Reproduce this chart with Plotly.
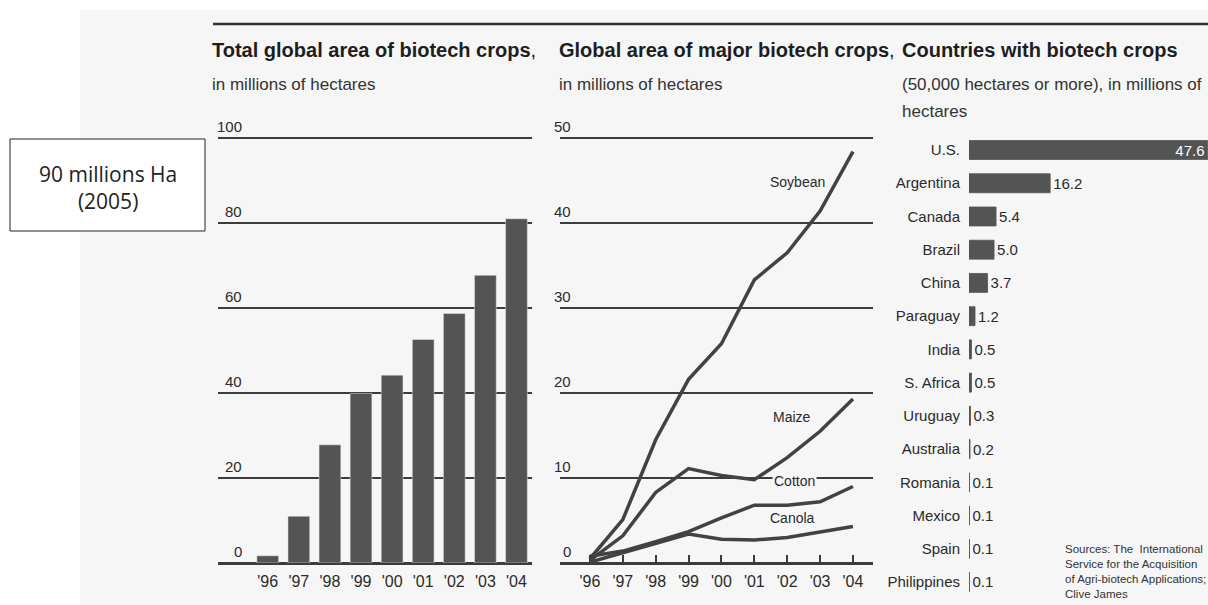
import plotly.graph_objects as go

# ---------------- data ----------------
years = ["'96", "'97", "'98", "'99", "'00", "'01", "'02", "'03", "'04"]
total_area = [1.7, 11.0, 27.8, 39.9, 44.2, 52.6, 58.7, 67.7, 81.0]

soybean = [0.5, 5.1, 14.5, 21.6, 25.8, 33.3, 36.5, 41.4, 48.4]
maize = [0.3, 3.2, 8.3, 11.1, 10.3, 9.8, 12.4, 15.5, 19.3]
cotton = [0.8, 1.4, 2.5, 3.7, 5.3, 6.8, 6.8, 7.2, 9.0]
canola = [0.1, 1.2, 2.4, 3.4, 2.8, 2.7, 3.0, 3.6, 4.3]

countries = ["U.S.", "Argentina", "Canada", "Brazil", "China", "Paraguay", "India",
             "S. Africa", "Uruguay", "Australia", "Romania", "Mexico", "Spain", "Philippines"]
country_area = [47.6, 16.2, 5.4, 5.0, 3.7, 1.2, 0.5, 0.5, 0.3, 0.2, 0.1, 0.1, 0.1, 0.1]

ticks_total = [0, 20, 40, 60, 80, 100]
ticks_crops = [0, 10, 20, 30, 40, 50]

# ---------------- style ----------------
W, H = 1208, 605
def px(x):
    return x / W
def py(y):
    return 1 - y / H

FONT = "Liberation Sans, Arial, sans-serif"
DARK = "#2a2a2a"
GRID = "#3c3c3c"
BAR = "#545454"
LINE = "#424242"
BG = "#f6f6f6"

fig = go.Figure()

# Panel 1: total area bars
fig.add_trace(go.Bar(x=years, y=total_area, marker=dict(color=BAR), width=0.7,
                     xaxis="x", yaxis="y", showlegend=False))

# Panel 2: crops lines
for vals in (soybean, maize, cotton, canola):
    fig.add_trace(go.Scatter(x=years, y=vals, mode="lines",
                             line=dict(color=LINE, width=3.5),
                             xaxis="x2", yaxis="y2", showlegend=False))

# Panel 3: countries bars
positions = ["inside"] + ["outside"] * (len(countries) - 1)
fig.add_trace(go.Bar(y=countries, x=country_area, orientation="h",
                     marker=dict(color=BAR, line=dict(color=BAR, width=0.8)),
                     width=0.57, text=[f"{v:.1f}" for v in country_area],
                     textposition=positions, insidetextanchor="end",
                     constraintext="none", textangle=0,
                     insidetextfont=dict(color="white", size=15, family=FONT),
                     outsidetextfont=dict(color=DARK, size=15, family=FONT),
                     cliponaxis=False,
                     xaxis="x3", yaxis="y3", showlegend=False))

# value 100 / 50 sits at pixel 138, axis range slightly extended so the top grid line shows
ydom = [py(563), py(133.75)]
fig.update_layout(
    width=W, height=H,
    margin=dict(l=0, r=0, t=0, b=0),
    paper_bgcolor="white",
    plot_bgcolor="rgba(0,0,0,0)",
    font=dict(family=FONT, color=DARK, size=15),
    xaxis=dict(domain=[px(218), px(532)], type="category", range=[-1.6, 8.5],
               showgrid=False, zeroline=False, showline=False, ticks="",
               ticklabelstandoff=7,
               tickfont=dict(size=16, family=FONT, color=DARK), anchor="y"),
    yaxis=dict(domain=ydom, range=[0, 101], tickvals=ticks_total, showticklabels=False,
               showgrid=True, gridcolor=GRID, gridwidth=2,
               zeroline=True, zerolinecolor=GRID, zerolinewidth=2.5, anchor="x"),
    xaxis2=dict(domain=[px(560), px(873)], type="category", range=[-0.91, 8.61],
                showgrid=False, zeroline=False, showline=False,
                ticks="inside", ticklen=8, tickwidth=2, tickcolor=GRID,
                ticklabelstandoff=7,
                tickfont=dict(size=16, family=FONT, color=DARK), anchor="y2"),
    yaxis2=dict(domain=ydom, range=[0, 50.5], tickvals=ticks_crops, showticklabels=False,
                showgrid=True, gridcolor=GRID, gridwidth=2,
                zeroline=True, zerolinecolor=GRID, zerolinewidth=2.5, anchor="x2"),
    xaxis3=dict(domain=[px(969), 1.0], range=[0, 47.7], visible=False, anchor="y3"),
    yaxis3=dict(domain=[py(598.6), py(133.4)], type="category",
                categoryorder="array", categoryarray=countries,
                range=[len(countries) - 0.5, -0.5],
                showgrid=False, zeroline=False, showline=False,
                ticks="outside", ticklen=5, tickcolor="rgba(0,0,0,0)",
                tickfont=dict(size=15, family=FONT, color=DARK), anchor="x3"),
)

shapes = [
    # scanned page background
    dict(type="rect", xref="paper", yref="paper", x0=px(80), x1=1, y0=0, y1=py(10),
         fillcolor=BG, line=dict(width=0), layer="below"),
    # top rule
    dict(type="line", xref="paper", yref="paper", x0=px(213), x1=1, y0=py(24), y1=py(24),
         line=dict(color="#333333", width=2.5)),
    # callout box
    dict(type="rect", xref="paper", yref="paper", x0=px(10), x1=px(205), y0=py(231), y1=py(139),
         fillcolor="white", line=dict(color="#222222", width=1)),
]
fig.update_layout(shapes=shapes)

ann = []
# y tick labels above grid lines
for v in ticks_total:
    ann.append(dict(xref="paper", x=px(244), xanchor="right", yref="y", y=v, yanchor="bottom",
                    yshift=1, text=str(v), showarrow=False,
                    font=dict(size=15, family=FONT, color=DARK)))
for v in ticks_crops:
    ann.append(dict(xref="paper", x=px(573), xanchor="right", yref="y2", y=v, yanchor="bottom",
                    yshift=1, text=str(v), showarrow=False,
                    font=dict(size=15, family=FONT, color=DARK)))

# line labels
line_labels = [("Soybean", 6.3, 44.8, None), ("Maize", 6.14, 17.2, None),
               ("Cotton", 6.22, 9.7, BG), ("Canola", 6.17, 5.3, None)]
for name, xv, yv, bg in line_labels:
    d = dict(xref="x2", x=xv, yref="y2", y=yv, text=name, showarrow=False,
             font=dict(size=14, family=FONT, color=DARK))
    if bg:
        d.update(bgcolor=bg, borderpad=1)
    ann.append(d)

# titles
titles = [
    (210, "<b>Total global area of biotech crops</b>,", ["in millions of hectares"]),
    (557, "<b>Global area of major biotech crops</b>,", ["in millions of hectares"]),
    (900, "<b>Countries with biotech crops</b>", ["(50,000 hectares or more), in millions of", "hectares"]),
]
for x0, t, subs in titles:
    ann.append(dict(xref="paper", x=px(x0), xanchor="left", yref="paper", y=py(50),
                    yanchor="middle", text=t, showarrow=False, align="left",
                    font=dict(size=20, family=FONT, color="#1e1e1e")))
    for i, s in enumerate(subs):
        ann.append(dict(xref="paper", x=px(x0), xanchor="left", yref="paper", y=py(84 + 28 * i),
                        yanchor="middle", text=s, showarrow=False, align="left",
                        font=dict(size=17, family=FONT, color="#333333")))

# sources
ann.append(dict(xref="paper", x=px(1063), xanchor="left", yref="paper", y=py(541), yanchor="top",
                text="Sources: The  International<br>Service for the Acquisition<br>of Agri-biotech Applications;<br>Clive James",
                showarrow=False, align="left", font=dict(size=11.5, family=FONT, color="#333333")))

# callout
ann.append(dict(xref="paper", x=px(108), xanchor="center", yref="paper", y=py(188), yanchor="middle",
                text="90 millions Ha<br>(2005)", showarrow=False, align="center",
                font=dict(size=21, family="Open Sans, Noto Sans, sans-serif", color="#222222")))

fig.update_layout(annotations=ann)

fig.write_html("out.html", config={"displayModeBar": False},
               post_script="document.body.style.margin='0';document.body.style.overflow='hidden';")
